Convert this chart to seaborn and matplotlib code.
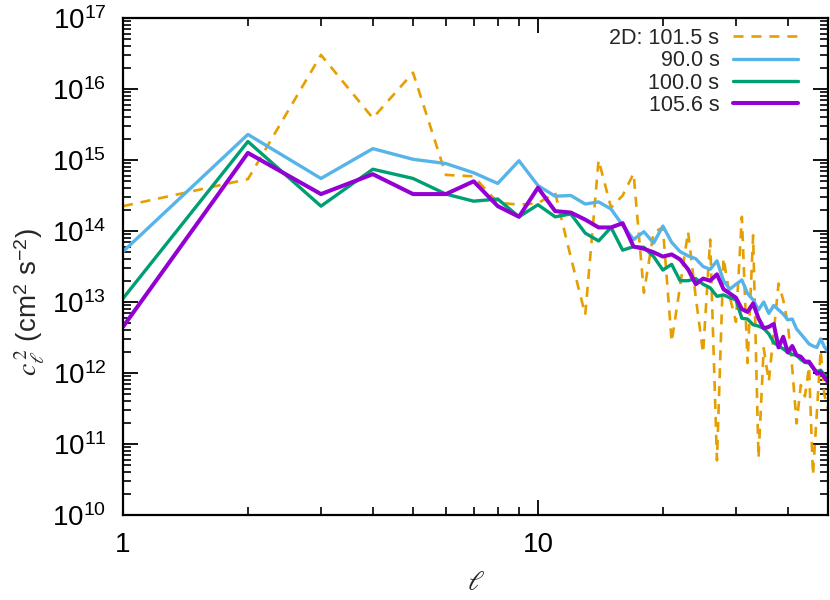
import numpy as np
import pandas as pd
import matplotlib
matplotlib.use("Agg")
import matplotlib.pyplot as plt
import matplotlib.ticker as mticker
import seaborn as sns

# ---- data (log10 of c_l^2), multipoles l = 1..50 ----
ell = list(range(1, 51))

log_2d_101p5 = [14.35, 14.73, 16.48, 15.59, 16.23, 14.79, 14.77, 14.40, 14.37, 14.39,
                14.54, 13.63, 12.82, 15.00, 14.33, 14.50, 14.81, 13.13, 13.98, 14.05,
                12.44, 13.22, 13.99, 13.07, 12.28, 13.88, 10.77, 13.62, 13.07, 12.72,
                14.20, 12.14, 13.94, 10.80, 12.35, 11.88, 12.57, 13.26, 13.03, 12.70,
                12.07, 11.29, 11.83, 11.67, 12.09, 10.56, 11.44, 12.32, 11.69, 11.50]

log_90p0 = [13.71, 15.36, 14.74, 15.16, 15.01, 14.95, 14.82, 14.67, 14.99, 14.64,
            14.49, 14.50, 14.38, 14.41, 14.31, 14.08, 13.88, 13.99, 13.83, 14.07,
            13.84, 13.71, 13.65, 13.61, 13.50, 13.46, 13.58, 13.30, 13.18, 13.25,
            13.31, 13.12, 13.03, 12.89, 13.00, 12.84, 12.95, 12.89, 12.83, 12.75,
            12.76, 12.62, 12.55, 12.48, 12.41, 12.38, 12.36, 12.48, 12.37, 12.29]

log_100p0 = [13.05, 15.26, 14.35, 14.87, 14.74, 14.52, 14.42, 14.45, 14.20, 14.37,
             14.20, 14.24, 13.97, 13.86, 14.05, 13.73, 13.78, 13.77, 13.64, 13.45,
             13.53, 13.30, 13.30, 13.33, 13.25, 13.20, 13.08, 13.10, 13.06, 13.03,
             12.77, 12.76, 12.68, 12.66, 12.63, 12.55, 12.43, 12.38, 12.34, 12.29,
             12.26, 12.25, 12.19, 12.15, 12.14, 12.07, 12.02, 12.04, 11.97, 11.95]

log_105p6 = [12.65, 15.10, 14.52, 14.80, 14.52, 14.52, 14.70, 14.35, 14.20, 14.61,
             14.28, 14.26, 14.16, 14.05, 14.05, 14.11, 13.78, 13.75, 13.70, 13.64,
             13.67, 13.60, 13.46, 13.25, 13.33, 13.30, 13.39, 13.18, 13.12, 13.06,
             12.90, 12.86, 12.98, 12.77, 12.63, 12.65, 12.69, 12.36, 12.51, 12.29,
             12.38, 12.25, 12.23, 12.16, 12.16, 12.08, 11.99, 12.01, 11.94, 11.87]

series_labels = ["2D: 101.5 s", "90.0 s", "100.0 s", "105.6 s"]
series_logs = [log_2d_101p5, log_90p0, log_100p0, log_105p6]
colors = ["#e69f00", "#56b4e9", "#009e73", "#9400d3"]
widths = [1.9, 2.4, 2.4, 2.9]

# ---- styling ----
sns.set_theme(style="ticks")
plt.rcParams["font.family"] = ["Liberation Sans", "DejaVu Sans"]
plt.rcParams["mathtext.fontset"] = "stix"

fig = plt.figure(figsize=(8.3, 6.0), dpi=100)
ax = fig.add_axes([123 / 830, 85 / 600, 705 / 830, 497 / 600])

frames = []
for lab, logs in zip(series_labels, series_logs):
    frames.append(pd.DataFrame({"ell": ell, "c2": np.power(10.0, logs), "series": lab}))
df = pd.concat(frames, ignore_index=True)

for lab, col, lw in zip(series_labels, colors, widths):
    sub = df[df["series"] == lab]
    sns.lineplot(data=sub, x="ell", y="c2", ax=ax, color=col, linewidth=lw,
                 label=lab, estimator=None, sort=False)

orange_line = ax.get_lines()[0]
orange_line.set_dashes((3.8, 3.0))

ax.set_xscale("log")
ax.set_yscale("log")
ax.set_xlim(1, 50)
ax.set_ylim(1e10, 1e17)

ax.xaxis.set_major_locator(mticker.FixedLocator([1, 10]))
ax.xaxis.set_major_formatter(mticker.FixedFormatter(["1", "10"]))
ax.xaxis.set_minor_locator(mticker.LogLocator(base=10, subs=np.arange(2, 10), numticks=20))
ax.xaxis.set_minor_formatter(mticker.NullFormatter())
ax.yaxis.set_major_locator(mticker.LogLocator(base=10, numticks=20))
ax.yaxis.set_minor_locator(mticker.LogLocator(base=10, subs=np.arange(2, 10), numticks=100))
ax.yaxis.set_minor_formatter(mticker.NullFormatter())

ax.tick_params(which="both", direction="in", top=True, right=True, colors="black",
               labelsize=20)
ax.tick_params(which="major", length=11, width=1.3)
ax.tick_params(which="minor", length=5.5, width=1.2)
ax.tick_params(axis="y", which="major", pad=12)
ax.tick_params(axis="x", which="major", pad=12)

for sp in ax.spines.values():
    sp.set_linewidth(1.6)
    sp.set_color("black")
    sp.set_visible(True)

ax.set_xlabel(r"$\ell$", fontsize=20)
ax.set_ylabel(r"$c_{\ell}^{\,2}$ (cm$^{\mathdefault{2}}$ s$^{\mathdefault{-2}}$)", fontsize=20)
ax.xaxis.set_label_coords(0.5, -0.11)
ax.yaxis.set_label_coords(-0.108, 0.43)

leg = ax.legend(loc="upper right", bbox_to_anchor=(798 / 830, 1 - 28 / 600),
                bbox_transform=fig.transFigure, frameon=False, fontsize=15.5,
                markerfirst=False, handlelength=3.0, handletextpad=0.65,
                labelspacing=0.06, borderpad=0, borderaxespad=0)

fig.savefig("out.png", dpi=100, facecolor="white")
